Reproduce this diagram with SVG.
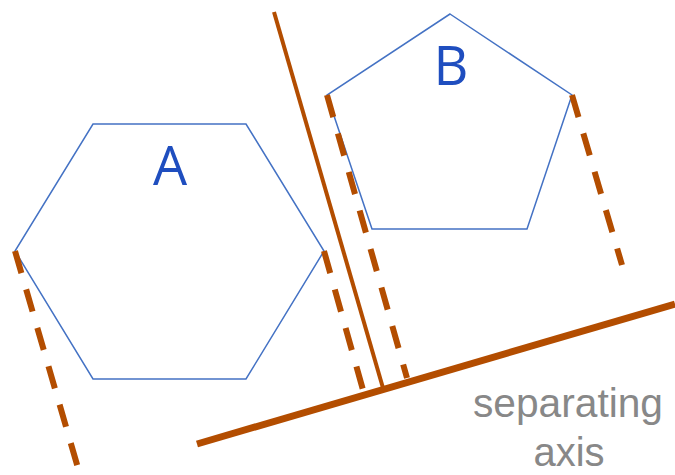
<svg xmlns="http://www.w3.org/2000/svg" width="675" height="475" viewBox="0 0 675 475">
<style>
.shape{fill:none;stroke:#4472C4;stroke-width:1.5;stroke-linejoin:miter}
.lbl{font-family:"Open Sans","Liberation Sans",sans-serif;font-size:54px;fill:#1F4EBF;text-anchor:middle}
.proj{stroke:#B34D00;stroke-width:6;stroke-dasharray:23 17;fill:none}
.solid{stroke:#B34D00;fill:none;stroke-linecap:butt}
.cap{font-family:"Liberation Sans","Open Sans",sans-serif;font-size:40px;fill:#888888;text-anchor:middle}
</style>
<rect width="675" height="475" fill="#ffffff"/>
<g id="A">
<polygon class="shape" points="93,124 246,124 324,251 246,379 93,379 15,251"/>
<text class="lbl" x="170" y="185">A</text>
</g>
<g id="B">
<polygon class="shape" points="450,14 572,95 527,229 372,229 327,95"/>
<text class="lbl" x="451" y="85">B</text>
</g>
<g id="connectors">
<line class="proj" x1="15" y1="251" x2="78" y2="468"/>
<line class="proj" x1="324" y1="251" x2="363" y2="390"/>
<line class="proj" x1="327" y1="95" x2="407" y2="378"/>
<line class="proj" x1="572" y1="95" x2="622" y2="265"/>
<line class="solid" stroke-width="4" x1="274" y1="12" x2="383" y2="388"/>
<line class="solid" stroke-width="7" x1="197" y1="444" x2="675" y2="304"/>
</g>
<g id="label">
<text class="cap" x="568" y="417" textLength="190" lengthAdjust="spacingAndGlyphs">separating</text>
<text class="cap" x="569" y="466">axis</text>
</g>
</svg>
